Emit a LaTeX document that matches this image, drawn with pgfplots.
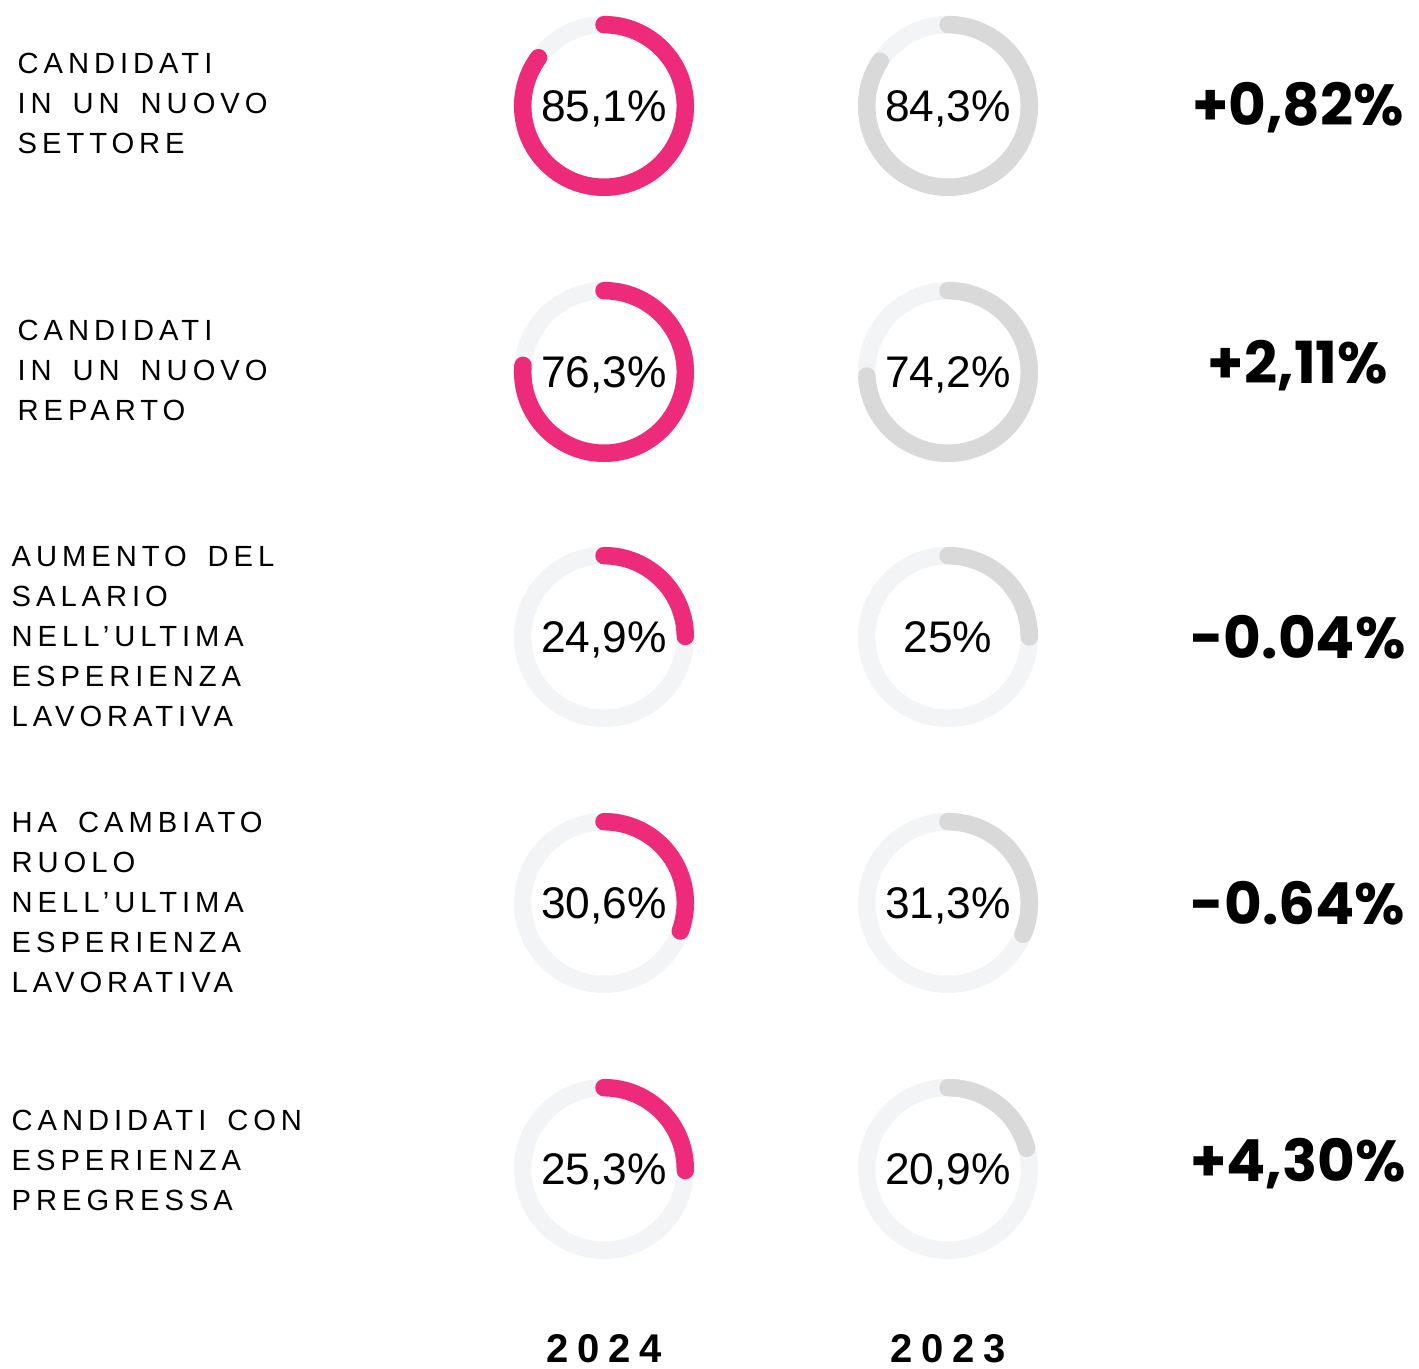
\documentclass[border=0pt]{standalone}
\usepackage{fontspec}
\setmainfont{Liberation Sans}
\newfontfamily\labelfont[LetterSpace=17, WordSpace=1.6]{Liberation Sans}
\newfontfamily\yearfont[LetterSpace=22]{Liberation Sans}
\newfontfamily\popfont{Poppins}
\usepackage{pgfplots}
\usepackage{pgfplotstable}
\pgfplotsset{compat=1.18}

\definecolor{pink24}{HTML}{EE2A7B}
\definecolor{gray23}{HTML}{D9D9D9}
\definecolor{ringbg}{HTML}{F3F4F6}

% one donut per point: x, y = centre (px of the reference, y from bottom), v = percentage
\pgfplotstableread{
x   y    v
604 1263 85.1
604 997  76.3
604 732  24.9
604 466  30.6
604 200  25.3
}\yeartwentyfour
\pgfplotstableread{
x   y    v
948 1263 84.3
948 997  74.2
948 732  25.0
948 466  31.3
948 200  20.9
}\yeartwentythree

% donut mark: light ring + arc of \pct percent, clockwise from the top
\newcommand\makedonut[2]{%
  \pgfdeclareplotmark{#1}{%
    \pgfmathsetmacro\donutend{90-3.6*\pct}%
    \pgfsetlinewidth{1.75mm}%
    \pgfsetstrokecolor{ringbg}%
    \pgfpathcircle{\pgfpointorigin}{8.13mm}%
    \pgfusepath{stroke}%
    \pgfsetroundcap
    \pgfsetstrokecolor{#2}%
    \pgfpathmoveto{\pgfpoint{0pt}{8.13mm}}%
    \pgfpatharc{90}{\donutend}{8.13mm}%
    \pgfusepath{stroke}%
  }}
\makedonut{donutpink}{pink24}
\makedonut{donutgray}{gray23}

\pgfplotsset{donutplot/.style={
    only marks, mark=#1,
    point meta=explicit,
    visualization depends on={\thisrow{v} \as \pct},
    nodes near coords={\pgfmathprintnumber[fixed, precision=1, use comma,
        assume math mode=true]{\pgfplotspointmeta}\%},
    every node near coord/.style={anchor=center, inner sep=0pt, text depth=0pt,
        text=black, font=\fontsize{12.6pt}{14pt}\selectfont},
}}

\tikzset{rowlabel/.style={anchor=north west, inner sep=0pt, align=left,
    font=\labelfont\fontsize{8.3pt}{11.4pt}\selectfont}}
\tikzset{delta/.style={anchor=center, inner sep=0pt, text depth=0pt,
    font=\popfont\bfseries\fontsize{16.5pt}{18pt}\selectfont}}

\begin{document}
\begin{tikzpicture}
\useasboundingbox (0,0) rectangle (141.9mm,136.9mm);
\begin{axis}[
  x=0.1mm, y=0.1mm,
  xmin=0, xmax=1419, ymin=0, ymax=1369,
  scale only axis, hide axis, clip=false,
]
\addplot[donutplot=donutpink] table[x=x, y=y, meta=v] {\yeartwentyfour};
\addplot[donutplot=donutgray] table[x=x, y=y, meta=v] {\yeartwentythree};

% row labels
\node[rowlabel] at (axis cs:17,1317) {CANDIDATI\\IN UN NUOVO\\SETTORE};
\node[rowlabel] at (axis cs:17,1050) {CANDIDATI\\IN UN NUOVO\\REPARTO};
\node[rowlabel] at (axis cs:11,824) {AUMENTO DEL\\SALARIO\\NELL’ULTIMA\\ESPERIENZA\\LAVORATIVA};
\node[rowlabel] at (axis cs:11,558) {HA CAMBIATO\\RUOLO\\NELL’ULTIMA\\ESPERIENZA\\LAVORATIVA};
\node[rowlabel] at (axis cs:11,260) {CANDIDATI CON\\ESPERIENZA\\PREGRESSA};

% differences
\node[delta] at (axis cs:1298,1265) {+0,82\%};
\node[delta] at (axis cs:1298,1007) {+2,11\%};
\node[delta] at (axis cs:1298,732) {-0.04\%};
\node[delta] at (axis cs:1298,466) {-0.64\%};
\node[delta] at (axis cs:1298,209) {+4,30\%};

% years
\node[anchor=base, inner sep=0pt, font=\yearfont\bfseries\fontsize{11.4pt}{12pt}\selectfont]
  at (axis cs:604,6) {2024};
\node[anchor=base, inner sep=0pt, font=\yearfont\bfseries\fontsize{11.4pt}{12pt}\selectfont]
  at (axis cs:948,6) {2023};
\end{axis}
\end{tikzpicture}
\end{document}
